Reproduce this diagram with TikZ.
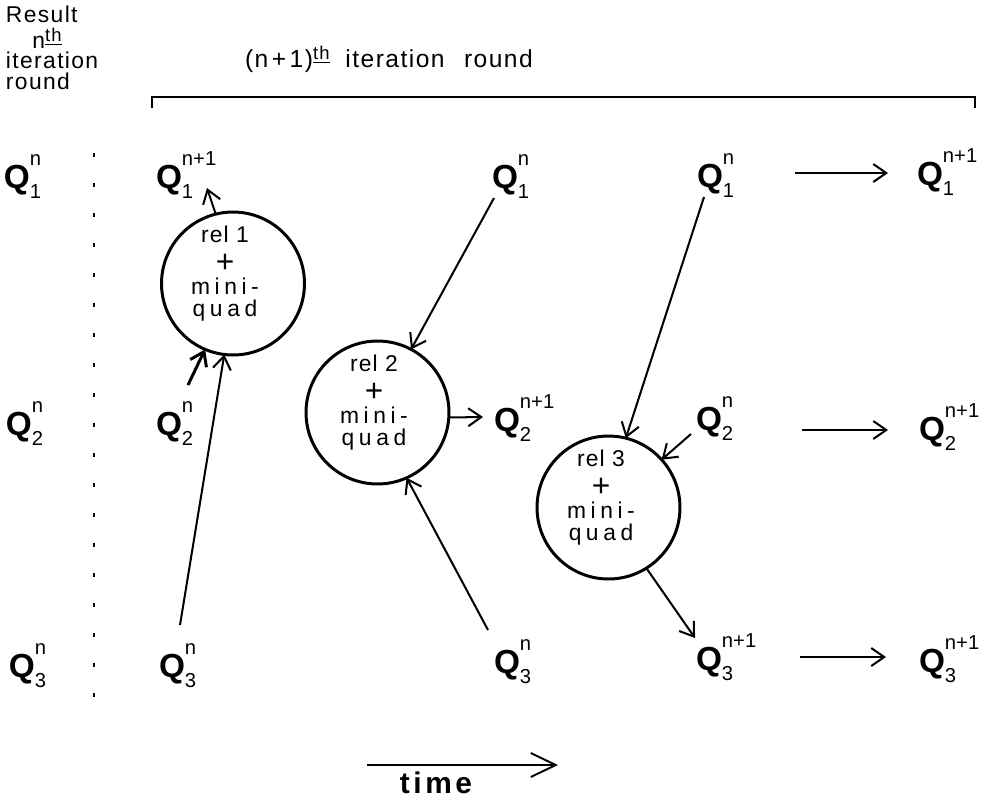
\documentclass[tikz,border=0pt]{standalone}
\usepackage{fontspec}
\setmainfont{Liberation Sans}[LetterSpace=6]
\newfontfamily\qfam{Liberation Sans}
\newfontfamily\circfam{Liberation Sans}[LetterSpace=20]
\newfontfamily\relfam{Liberation Sans}[LetterSpace=5]
\newfontfamily\timefam{Liberation Sans}[LetterSpace=12]
\usetikzlibrary{arrows.meta}
\newcommand\qbig{\qfam\bfseries\fontsize{19}{19}\selectfont}
\newcommand\qsml{\qfam\mdseries\fontsize{11.5}{12}\selectfont}
\newcommand\QQ[2]{{\qbig Q}\rlap{\raisebox{13pt}{\qsml #1}}\raisebox{-6pt}{\qsml #2}}
\newcommand\thu{\raisebox{4pt}{\fontsize{10.5}{10}\selectfont\underline{th}}}
\newcommand\relbox[1]{\vtop{\baselineskip=10pt\lineskiplimit=-30pt\lineskip=0pt
  \halign{\hfil##\hfil\cr {\relfam rel #1}\cr\noalign{\vskip7.2pt}{\qfam\fontsize{18}{18}\selectfont +}\cr
  \noalign{\vskip2.5pt}mini-\cr\noalign{\vskip2.5pt}quad\cr}}}
\begin{document}
\begin{tikzpicture}[x=0.02cm, y=-0.02cm,
  every node/.style={inner sep=0pt, outer sep=0pt},
  qlab/.style={anchor=base west},
  relc/.style={circle, draw, line width=1.7pt, minimum size=2.86cm},
  reltxt/.style={anchor=base, font=\circfam\fontsize{13}{10}\selectfont},
  arr/.style={line width=1.15pt, -{Straight Barb[length=0.26cm, width=0.36cm]}},
  font=\fontsize{13}{11.6}\selectfont]
\useasboundingbox (0,0) rectangle (983,799);

% headings
\node[anchor=north west, align=left] (res) at (6,6) {Result\\[2pt]\hspace*{15pt}n\thu\\iteration\\round};
\node[anchor=base west, font=\fontsize{14}{14}\selectfont] (head) at (245,67) {(n\kern2pt+\kern2pt1)\thu\hspace{9pt}iteration\hspace{11pt}round};
\draw[line width=0.9pt] (152,108) -- (152,97) -- (975,97) -- (975,108);

% dotted separator
\draw[line width=1.2pt, dash pattern=on 0.08cm off 0.52cm] (94,153) -- (94,700);

% Q labels
\node[qlab] (L1) at (4,188) {\QQ{n}{1}};
\node[qlab] (L2) at (6,435) {\QQ{n}{2}};
\node[qlab] (L3) at (9,677) {\QQ{n}{3}};
\node[qlab] (A1) at (156,188) {\QQ{n+1}{1}};
\node[qlab] (A2) at (156,435) {\QQ{n}{2}};
\node[qlab] (A3) at (159,677) {\QQ{n}{3}};
\node[qlab] (B1) at (492,188) {\QQ{n}{1}};
\node[qlab] (B2) at (494,431) {\QQ{n+1}{2}};
\node[qlab] (B3) at (494,673) {\QQ{n}{3}};
\node[qlab] (C1) at (697,187) {\QQ{n}{1}};
\node[qlab] (C2) at (696,430) {\QQ{n}{2}};
\node[qlab] (C3) at (696,670) {\QQ{n+1}{3}};
\node[qlab] (D1) at (917,185) {\QQ{n+1}{1}};
\node[qlab] (D2) at (919,440) {\QQ{n+1}{2}};
\node[qlab] (D3) at (919,672) {\QQ{n+1}{3}};

% circles
\node[relc] (c1) at (233,283.5) {};
\node[relc] (c2) at (377.5,412.5) {};
\node[relc] (c3) at (608.5,507.5) {};
\node[reltxt] (t1) at ([shift={(-8,-41.5)}]c1.center) {\relbox{1}};
\node[reltxt] (t2) at ([shift={(-3.5,-41.5)}]c2.center) {\relbox{2}};
\node[reltxt] (t3) at ([shift={(-7.5,-41.5)}]c3.center) {\relbox{3}};

% connectors
\draw[arr] (c1.104) -- ([shift={(51,0)}]A1.base west);
\draw[arr, line width=1.7pt] ([shift={(32,-50)}]A2.base west) -- (c1.247);
\draw[arr] ([shift={(21,-52)}]A3.base west) -- (c1.263);
\draw[arr] ([shift={(2,10)}]B1.base west) -- (c2.62.6);
\draw[arr] (c2.356) -- ([shift={(-11,-14)}]B2.base west);
\draw[arr] ([shift={(-6,-43)}]B3.base west) -- (c2.294);
\draw[arr] ([shift={(7,10)}]C1.base west) -- (c3.76.8);
\draw[arr] ([shift={(-5,4)}]C2.base west) -- (c3.42.8);
\draw[arr] (c3.302.5) -- ([shift={(-1,-32)}]C3.base west);
\draw[arr] ([shift={(98,-14)}]C1.base west) -- ([shift={(-29,-12)}]D1.base west);
\draw[arr] ([shift={(106,0)}]C2.base west) -- ([shift={(-31,-10)}]D2.base west);
\draw[arr] ([shift={(104,-13)}]C3.base west) -- ([shift={(-33,-15)}]D3.base west);

% time
\node[anchor=base, font=\timefam\bfseries\fontsize{17}{17}\selectfont] (time) at (436,793) {time};
\draw[line width=1.1pt, -{Straight Barb[length=0.5cm,width=0.48cm]}] ([shift={(-69,-28)}]time.base) -- ([shift={(122,-28)}]time.base);
\end{tikzpicture}
\end{document}
